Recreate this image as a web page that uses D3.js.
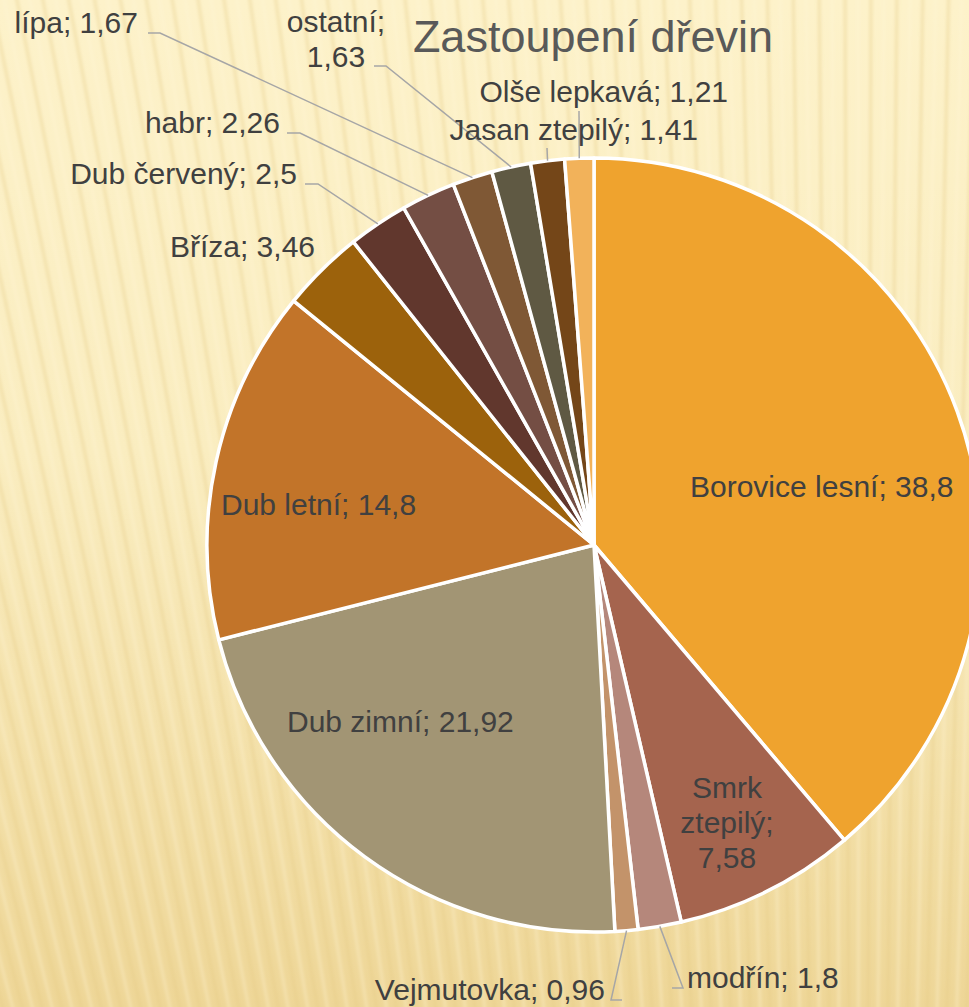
<!DOCTYPE html>
<html>
<head>
<meta charset="utf-8">
<script src="https://cdn.jsdelivr.net/npm/d3@7"></script>
<style>
  html, body { margin: 0; padding: 0; }
  body { width: 969px; height: 1007px; overflow: hidden; }
  svg text { font-family: "Liberation Sans", Arial, sans-serif; }
</style>
</head>
<body>
<div id="chart"></div>
<script>
// data
const species = ["Borovice lesní", "Smrk ztepilý", "modřín", "Vejmutovka", "Dub zimní", "Dub letní",
  "Bříza", "Dub červený", "habr", "lípa", "ostatní", "Jasan ztepilý", "Olše lepkavá"]
const values = [38.8, 7.58, 1.8, 0.96, 21.92, 14.8, 3.46, 2.5, 2.26, 1.67, 1.63, 1.41, 1.21]
const colors = ["#EFA32E", "#A5644E", "#B5877B", "#C3936A", "#A29574", "#C27429",
  "#9C620C", "#61372D", "#744E44", "#7F5835", "#5F5943", "#744618", "#F2B25A"]
const title = "Zastoupení dřevin"

// label layout: text lines, anchor point, and leader bend (if any)
const labelLayout = {
  "Borovice lesní": {x: 690, y: 497, anchor: "start", lines: ["Borovice lesní; {v}"]},
  "Smrk ztepilý": {x: 727, y: 798, anchor: "middle", lines: ["Smrk", "ztepilý;", "{v}"]},
  "modřín": {x: 687, y: 988, anchor: "start", lines: ["modřín; {v}"], leader: [[672, 988], [683, 988]]},
  "Vejmutovka": {x: 605, y: 1000, anchor: "end", lines: ["Vejmutovka; {v}"], leader: [[622, 1000], [611, 1000]]},
  "Dub zimní": {x: 287, y: 732, anchor: "start", lines: ["Dub zimní; {v}"]},
  "Dub letní": {x: 221, y: 515, anchor: "start", lines: ["Dub letní; {v}"]},
  "Bříza": {x: 315, y: 257, anchor: "end", lines: ["Bříza; {v}"]},
  "Dub červený": {x: 297, y: 184, anchor: "end", lines: ["Dub červený; {v}"], leader: [[305, 184], [318, 184]]},
  "habr": {x: 280, y: 133, anchor: "end", lines: ["habr; {v}"], leader: [[287, 133], [300, 133]]},
  "lípa": {x: 138, y: 33, anchor: "end", lines: ["lípa; {v}"], leader: [[148, 33], [160, 33]]},
  "ostatní": {x: 336, y: 32, anchor: "middle", lines: ["ostatní;", "{v}"], leader: [[374, 66], [386, 66]]},
  "Jasan ztepilý": {x: 698, y: 140, anchor: "end", lines: ["Jasan ztepilý; {v}"], leader: [[547, 148]]},
  "Olše lepkavá": {x: 728, y: 102, anchor: "end", lines: ["Olše lepkavá; {v}"], leader: [[579, 111]]}
}

const width = 969
const height = 1007
const cx = 594, cy = 545, radius = 387

const svg = d3.select("#chart").append("svg")
  .attr("width", width)
  .attr("height", height)

// background
const defs = svg.append("defs")
const grad = defs.append("linearGradient")
  .attr("id", "bg").attr("x1", 0).attr("y1", 0).attr("x2", 0).attr("y2", 1)
grad.append("stop").attr("offset", "0%").attr("stop-color", "#FDF2CA")
grad.append("stop").attr("offset", "45%").attr("stop-color", "#FAEDC0")
grad.append("stop").attr("offset", "100%").attr("stop-color", "#EED697")
defs.append("filter").attr("id", "soft")
  .append("feGaussianBlur").attr("stdDeviation", 1.6)

svg.append("rect").attr("width", width).attr("height", height).attr("fill", "url(#bg)")

// faint stripes fanning from a point far below
const focus = [860, 4200]
const stripes = svg.append("g").attr("filter", "url(#soft)")
d3.range(-60, 90).forEach(function(i) {
  const topX = i * 13
  stripes.append("line")
    .attr("x1", topX).attr("y1", -20)
    .attr("x2", topX + (focus[0] - topX) * (1050 / (focus[1] + 20)))
    .attr("y2", 1030)
    .attr("stroke", i % 2 ? "#E6CC86" : "#FFF6D6")
    .attr("stroke-width", 3.5)
    .attr("stroke-opacity", i % 2 ? 0.35 : 0.3)
})

// title
svg.append("text")
  .attr("x", 593).attr("y", 52)
  .attr("text-anchor", "middle")
  .attr("font-size", 45)
  .attr("fill", "#595959")
  .text(title)

const rows = species.map(function(s, i) { return {name: s, value: values[i], color: colors[i]} })

const pie = d3.pie().sort(null).value(function(d) { return d.value })
const arc = d3.arc().innerRadius(0).outerRadius(radius)
const edge = d3.arc().innerRadius(radius).outerRadius(radius)

const g = svg.append("g").attr("transform", "translate(" + cx + "," + cy + ")")
const arcs = pie(rows)

g.selectAll("path.slice")
  .data(arcs)
  .enter()
  .append("path")
    .attr("class", "slice")
    .attr("d", arc)
    .attr("fill", function(d) { return d.data.color })
    .attr("stroke", "#FFFFFF")
    .attr("stroke-width", 3.5)
    .attr("stroke-linejoin", "round")

// leader lines
const fmt = function(v) { return String(v).replace(".", ",") }
arcs.forEach(function(d) {
  const lay = labelLayout[d.data.name]
  if (!lay.leader) return
  const c = edge.centroid(d)
  const pts = [[c[0] + cx, c[1] + cy]].concat(lay.leader.slice().reverse())
  svg.append("path")
    .attr("d", d3.line()(pts))
    .attr("fill", "none")
    .attr("stroke", "#A6A6A6")
    .attr("stroke-width", 1.5)
})

// labels
arcs.forEach(function(d) {
  const lay = labelLayout[d.data.name]
  const t = svg.append("text")
    .attr("x", lay.x).attr("y", lay.y)
    .attr("text-anchor", lay.anchor)
    .attr("font-size", 30)
    .attr("fill", "#404040")
  lay.lines.forEach(function(line, j) {
    t.append("tspan")
      .attr("x", lay.x)
      .attr("dy", j === 0 ? 0 : 35)
      .text(line.replace("{v}", fmt(d.data.value)))
  })
})
</script>
</body>
</html>
